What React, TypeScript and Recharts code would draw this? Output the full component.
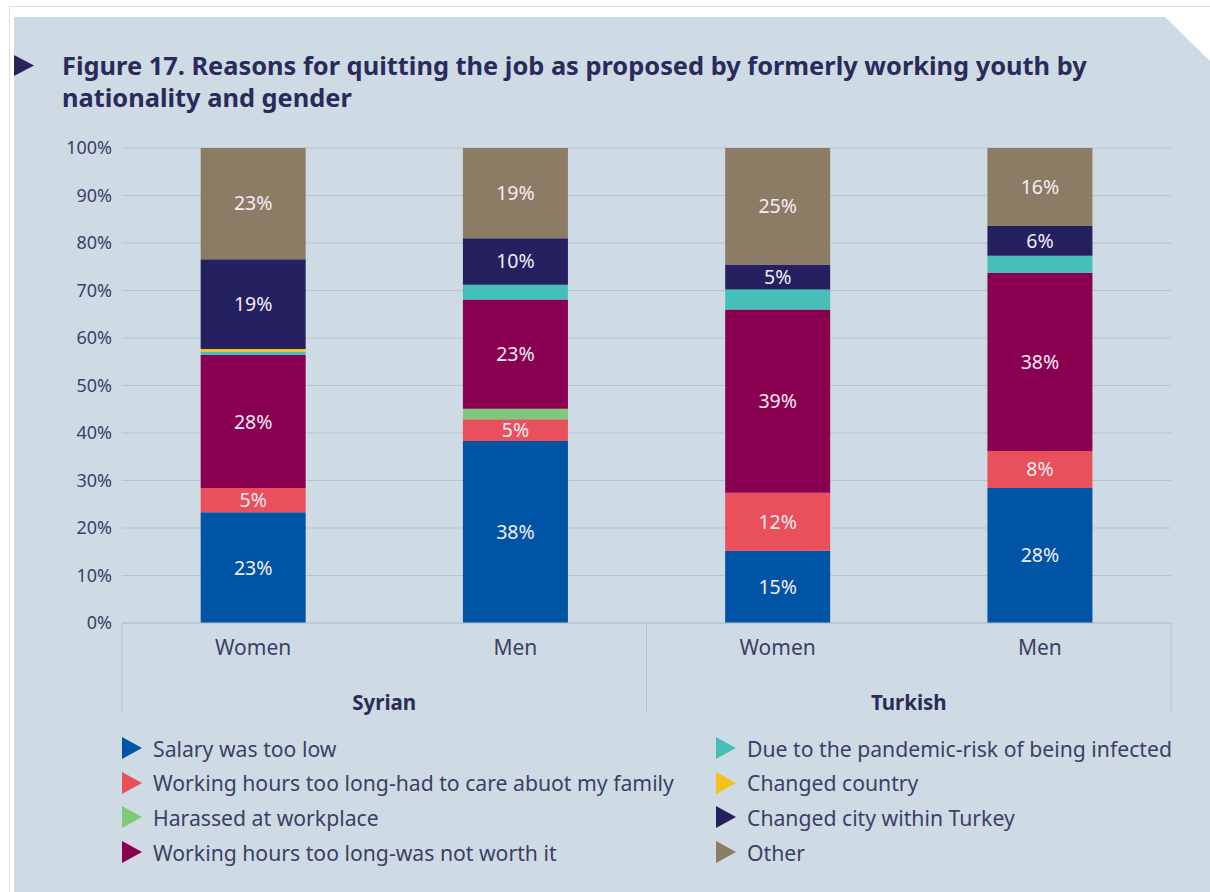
import { BarChart, Bar, XAxis, YAxis, CartesianGrid, LabelList } from 'recharts'

const categories = ['Women', 'Men', 'Women', 'Men']
const nationalities = ['Syrian', 'Syrian', 'Turkish', 'Turkish']

// shares in %, bottom of the stack first
const salaryTooLow = [23.3, 38.3, 15.2, 28.4]
const careForFamily = [5.1, 4.6, 12.2, 7.8]
const harassed = [0, 2.2, 0, 0]
const notWorthIt = [28.0, 23.0, 38.6, 37.5]
const pandemicRisk = [0.7, 3.1, 4.2, 3.6]
const changedCountry = [0.6, 0, 0, 0]
const changedCity = [18.9, 9.8, 5.3, 6.3]
const other = [23.4, 19.0, 24.5, 16.4]

const seriesKeys = ['salary', 'care', 'harassed', 'notWorth', 'pandemic', 'country', 'city', 'other']
const seriesNames = [
  'Salary was too low',
  'Working hours too long-had to care abuot my family',
  'Harassed at workplace',
  'Working hours too long-was not worth it',
  'Due to the pandemic-risk of being infected',
  'Changed country',
  'Changed city within Turkey',
  'Other',
]
const seriesValues = [salaryTooLow, careForFamily, harassed, notWorthIt, pandemicRisk, changedCountry, changedCity, other]
const seriesColors = ['#0054a6', '#e9505c', '#7fc97a', '#8a0050', '#46bfb8', '#f5c11d', '#252060', '#8c7c66']

const yTicks = [0, 10, 20, 30, 40, 50, 60, 70, 80, 90, 100]

const data = categories.map((gender, i) => {
  const row: Record<string, string | number> = { gender, nationality: nationalities[i] }
  seriesKeys.forEach((k, s) => {
    row[k] = seriesValues[s][i]
  })
  return row
})

const FONT = '"Noto Sans", "Open Sans", sans-serif'
const TEXT = '#3d3f66'
const LINE = '#b5c3ce'

// eslint-disable-next-line @typescript-eslint/no-explicit-any
function GenderTick({ x, y, payload }: any) {
  return (
    <text x={x} y={y + 32} textAnchor="middle" fill={TEXT} fontSize={21} fontFamily={FONT}>
      {payload.value}
    </text>
  )
}

// eslint-disable-next-line @typescript-eslint/no-explicit-any
function NationalityTick({ x, y, payload, index }: any) {
  const half = payload.offset ?? 262
  return (
    <g>
      {index === 0 && <line x1={x - half} x2={x - half} y1={y - 45} y2={y + 44} stroke={LINE} />}
      <line x1={x + half} x2={x + half} y1={y - 45} y2={y + 44} stroke={LINE} />
      <text x={x} y={y + 42} textAnchor="middle" fill="#2a2b5a" fontSize={20.5} fontWeight={700} fontFamily={FONT}>
        {payload.value}
      </text>
    </g>
  )
}

function fmt(v: unknown) {
  const n = Number(v)
  return n >= 4.5 ? `${Math.round(n)}%` : ''
}

export default function App() {
  return (
    <div style={{ position: 'fixed', left: 0, top: 0, width: 1210, height: 892, background: '#fff', fontFamily: FONT, overflow: 'hidden' }}>
      <div style={{ position: 'absolute', left: 9, top: 6, right: 0, bottom: 0, borderLeft: '1px solid #dcdcdc', borderTop: '1px solid #dcdcdc' }} />
      <div
        style={{
          position: 'absolute',
          left: 14,
          top: 17,
          width: 1196,
          height: 875,
          background: '#cedbe4',
          clipPath: 'polygon(0 0, 1151px 0, 1196px 44px, 1196px 875px, 0 875px)',
        }}
      />
      <svg style={{ position: 'absolute', left: 0, top: 0 }} width={40} height={90}>
        <polygon points="14,55 34,65.5 14,76" fill="#29255a" />
      </svg>
      <div
        style={{
          position: 'absolute',
          left: 62,
          top: 49,
          fontSize: 25.4,
          lineHeight: '32px',
          fontWeight: 700,
          color: '#2a2b5c',
          whiteSpace: 'nowrap',
        }}
      >
        Figure 17. Reasons for quitting the job as proposed by formerly working youth by
        <br />
        nationality and gender
      </div>

      <div style={{ position: 'absolute', left: 0, top: 0 }}>
        <BarChart
          width={1210}
          height={892}
          data={data}
          barCategoryGap="30%"
          margin={{ top: 148, right: 39, left: 62, bottom: 179 }}
          style={{ fontFamily: FONT }}
        >
          <CartesianGrid vertical={false} stroke={LINE} />
          <YAxis
            width={60}
            domain={[0, 100]}
            ticks={yTicks}
            interval={0}
            axisLine={false}
            tickLine={false}
            tickSize={0}
            tickMargin={10}
            tickFormatter={(v) => `${v}%`}
            tick={{ fill: TEXT, fontSize: 18 }}
          />
          <XAxis
            dataKey="gender"
            height={45}
            interval={0}
            axisLine={{ stroke: LINE }}
            tickLine={false}
            tickSize={0}
            tickMargin={0}
            tick={<GenderTick />}
          />
          <XAxis
            xAxisId="nat"
            dataKey="nationality"
            allowDuplicatedCategory={false}
            height={45}
            interval={0}
            axisLine={false}
            tickLine={false}
            tickSize={0}
            tickMargin={0}
            tick={<NationalityTick />}
          />
          {seriesKeys.map((k, s) => (
            <Bar key={k} dataKey={k} name={seriesNames[s]} stackId="a" fill={seriesColors[s]} isAnimationActive={false}>
              <LabelList dataKey={k} position="center" fill="#f4ecf4" fontSize={19.5} formatter={fmt} />
            </Bar>
          ))}
        </BarChart>
      </div>

      {seriesNames.map((name, s) => {
        const col = s < 4 ? 0 : 1
        const row = s % 4
        const left = col === 0 ? 122 : 716
        const top = 748 + row * 34.7
        return (
          <div key={name} style={{ position: 'absolute', left, top: top - 14, height: 28, display: 'flex', alignItems: 'center', whiteSpace: 'nowrap' }}>
            <svg width={20} height={22} style={{ marginRight: 11 }}>
              <polygon points="0,0 20,11 0,22" fill={seriesColors[s]} />
            </svg>
            <span style={{ fontSize: 21.2, color: TEXT }}>{name}</span>
          </div>
        )
      })}
    </div>
  )
}
